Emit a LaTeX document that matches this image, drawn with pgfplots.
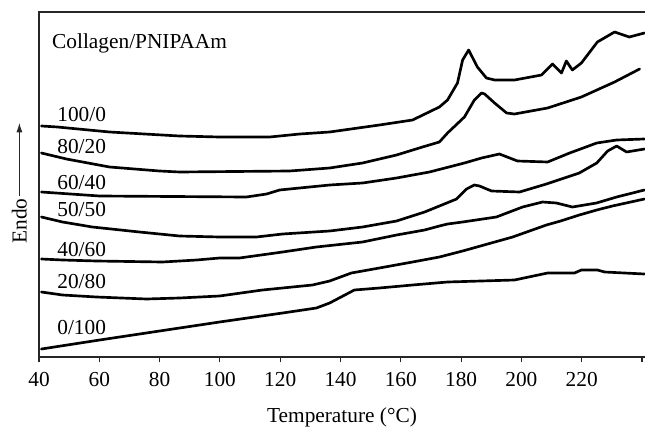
\documentclass[border=0pt]{standalone}
\usepackage{fontspec}
\setmainfont{Liberation Serif}
\usepackage{pgfplots}
\pgfplotsset{compat=1.18}
\usetikzlibrary{arrows.meta}
\tikzset{curve/.style={black, solid, line width=2pt, line join=round, line cap=round}}
\begin{document}
\fontsize{16}{19}\selectfont
\begin{tikzpicture}[font=\fontsize{16}{19}\selectfont]
\begin{axis}[
 at={(0,0)}, anchor=south west,
 scale only axis, width=456pt, height=258.75pt,
 xmin=40, xmax=241.66, ymin=-357, ymax=-12,
 axis line style={line width=0.9pt, black!85},
 xtick={40,60,...,240}, xticklabels={40,60,80,100,120,140,160,180,200,220,{}},
 xtick pos=bottom,
 ytick=\empty,
 tick align=outside, major tick length=4pt, tick style={black!85, line width=0.8pt},
 /pgf/number format/assume math mode=true,
 xticklabel style={font=\fontsize{16}{19}\selectfont, yshift=-2pt},
 clip=false,
]
% 100/0
\addplot[curve] coordinates {(40.8,-126) (46.1,-127) (63.4,-132) (86.6,-136) (99.9,-137) (116.5,-137) (126.5,-134) (136.4,-132) (152.9,-125) (163.9,-120) (172.8,-107) (175.5,-100) (178.8,-83) (180.5,-60) (182.5,-50) (185.4,-67) (188.4,-78) (191.1,-80) (197.7,-80) (206.7,-75) (210.3,-64) (213.3,-73) (214.9,-61) (216.9,-70) (219.9,-63) (225.2,-42) (230.9,-32) (235.8,-37) (240.8,-33)};
% 80/20
\addplot[curve] coordinates {(40.8,-153) (49.1,-159) (63.4,-167) (80.0,-171) (86.6,-172) (123.1,-171) (136.4,-168) (147.3,-163) (158.6,-155) (167.2,-147) (172.8,-142) (175.5,-133) (181.1,-117) (184.4,-100) (186.8,-93) (187.8,-94) (191.1,-103) (195.1,-113) (197.7,-114) (208.7,-108) (219.9,-97) (230.9,-82) (239.2,-69)};
% 60/40
\addplot[curve] coordinates {(40.8,-192) (60.1,-196) (108.8,-197) (115.5,-194) (119.8,-190) (136.4,-185) (147.3,-183) (158.6,-178) (169.5,-172) (181.1,-163) (186.8,-158) (192.7,-154) (198.7,-161) (208.7,-162) (216.0,-153) (225.0,-143) (231.6,-140) (240.8,-139)};
% 50/50
\addplot[curve] coordinates {(40.8,-217) (47.8,-222) (57.7,-227) (73.3,-232) (86.6,-236) (99.9,-237) (112.1,-237) (120.8,-234) (136.4,-231) (147.3,-227) (158.6,-221) (167.9,-212) (172.8,-206) (178.5,-199) (181.8,-189) (184.4,-185) (186.1,-186) (190.1,-191) (199.4,-192) (208.3,-184) (219.2,-173) (225.0,-163) (228.6,-151) (231.6,-146) (234.9,-152) (240.8,-149)};
% 40/60
\addplot[curve] coordinates {(40.8,-259) (47.8,-260) (59.1,-261) (81.0,-262) (92.3,-260) (99.9,-258) (106.5,-258) (120.8,-252) (132.0,-247) (147.3,-242) (158.6,-235) (167.9,-230) (172.8,-226) (175.5,-224) (180.5,-222) (191.7,-217) (200.4,-207) (207.0,-202) (211.6,-203) (216.9,-207) (224.9,-203) (231.6,-197) (240.8,-190)};
% 20/80
\addplot[curve] coordinates {(40.8,-292) (47.8,-295) (59.1,-297) (75.7,-299) (86.6,-298) (99.9,-296) (114.1,-290) (130.7,-285) (136.4,-281) (143.6,-273) (152.9,-268) (163.9,-262) (172.8,-257) (180.5,-251) (197.1,-237) (208.3,-225) (213.0,-221) (219.2,-215) (225.0,-210) (230.2,-206) (240.8,-199)};
% 0/100
\addplot[curve] coordinates {(40.8,-349) (60.1,-340) (80.0,-331) (99.9,-322) (120.8,-313) (132.0,-308) (136.4,-303) (144.6,-290) (152.9,-288) (163.9,-285) (175.5,-282) (197.7,-280) (208.7,-273) (217.6,-273) (219.9,-270) (225.2,-270) (227.6,-272) (240.8,-274)};

\node[anchor=west, inner sep=0pt] at (axis cs:44.3,-43) {Collagen/PNIPAAm};
\node[anchor=west, inner sep=0pt] at (axis cs:46,-115) {100/0};
\node[anchor=west, inner sep=0pt] at (axis cs:46,-147) {80/20};
\node[anchor=west, inner sep=0pt] at (axis cs:46,-183) {60/40};
\node[anchor=west, inner sep=0pt] at (axis cs:46,-210) {50/50};
\node[anchor=west, inner sep=0pt] at (axis cs:46,-250) {40/60};
\node[anchor=west, inner sep=0pt] at (axis cs:46,-282) {20/80};
\node[anchor=west, inner sep=0pt] at (axis cs:46,-328) {0/100};

\node[rotate=90] at (axis cs:33.5,-221) {Endo};
\draw[-{Latex[length=7pt,width=4.5pt]}, line width=0.6pt, black!85] (axis cs:33.5,-196) -- (axis cs:33.5,-123);
\node at (axis cs:140.5,-417) {Temperature (°C)};
\end{axis}
\pgfresetboundingbox
\path[use as bounding box] (-29.25pt,-54pt) rectangle (454.5pt,267.75pt);
\end{tikzpicture}
\end{document}
